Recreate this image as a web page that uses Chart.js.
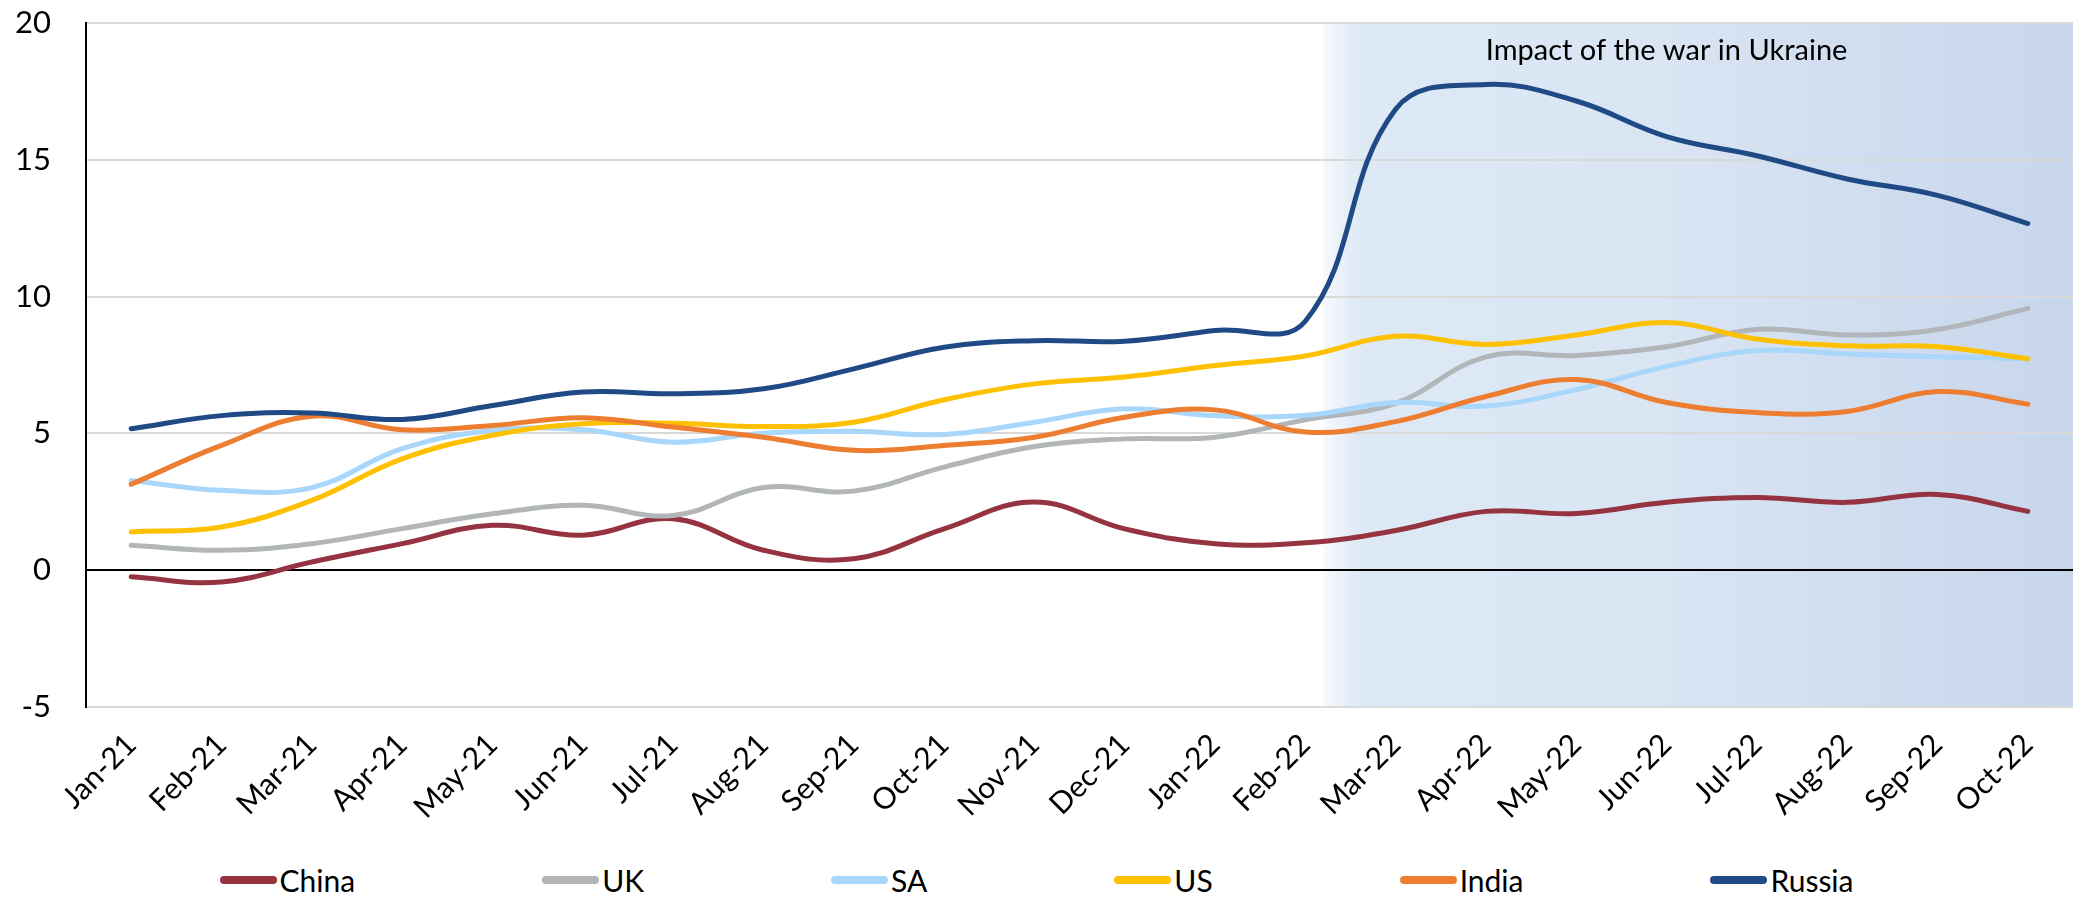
<!DOCTYPE html>
<html>
<head>
<meta charset="utf-8">
<script src="https://cdn.jsdelivr.net/npm/chart.js@4.4.0/dist/chart.umd.min.js"></script>
<style>
  body { margin: 0; background: #fff; font-family: Lato, sans-serif; }
  #wrap { position: relative; width: 2073px; height: 835px; }
  #legend { display: flex; justify-content: center; align-items: center; width: 2073px; height: 62px; padding-top: 28px; box-sizing: border-box; }
  .item { display: flex; align-items: center; margin-right: 187px; font-size: 30px; color: #000; }
  .item:last-child { margin-right: 0; }
  .mark { width: 57px; height: 8px; border-radius: 4px; margin-right: 3px; }
</style>
</head>
<body>
<div id="wrap"><canvas id="chart"></canvas></div>
<div id="legend"></div>
<script>
const months = ['Jan-21', 'Feb-21', 'Mar-21', 'Apr-21', 'May-21', 'Jun-21', 'Jul-21', 'Aug-21', 'Sep-21', 'Oct-21', 'Nov-21', 'Dec-21',
  'Jan-22', 'Feb-22', 'Mar-22', 'Apr-22', 'May-22', 'Jun-22', 'Jul-22', 'Aug-22', 'Sep-22', 'Oct-22'];

const china = [-0.24, -0.43, 0.30, 0.97, 1.64, 1.28, 1.88, 0.73, 0.42, 1.51, 2.49, 1.51, 0.97, 1.0, 1.45, 2.15, 2.07, 2.48, 2.66, 2.48, 2.77, 2.15];
const uk = [0.91, 0.73, 0.97, 1.52, 2.06, 2.37, 2.0, 3.02, 2.89, 3.77, 4.52, 4.8, 4.86, 5.5, 6.1, 7.8, 7.85, 8.17, 8.8, 8.6, 8.8, 9.57];
const sa = [3.28, 2.92, 3.02, 4.44, 5.11, 5.13, 4.68, 5.01, 5.08, 4.96, 5.41, 5.9, 5.65, 5.66, 6.13, 6.0, 6.6, 7.45, 8.03, 7.9, 7.8, 7.73];
const us = [1.40, 1.58, 2.55, 4.07, 4.93, 5.35, 5.37, 5.25, 5.41, 6.23, 6.81, 7.06, 7.48, 7.83, 8.55, 8.25, 8.6, 9.05, 8.45, 8.2, 8.17, 7.73];
const india = [3.14, 4.56, 5.63, 5.13, 5.29, 5.57, 5.23, 4.86, 4.38, 4.56, 4.86, 5.59, 5.86, 5.05, 5.43, 6.35, 6.97, 6.13, 5.76, 5.8, 6.53, 6.07];
const russia = [5.17, 5.65, 5.75, 5.51, 6.02, 6.51, 6.45, 6.63, 7.36, 8.15, 8.39, 8.37, 8.76, 9.1, 16.85, 17.75, 17.15, 15.85, 15.15, 14.3, 13.7, 12.67];

const seriesNames = ['China', 'UK', 'SA', 'US', 'India', 'Russia'];
const seriesData = [china, uk, sa, us, india, russia];
const seriesColors = ['#953340', '#b2b6b8', '#a9d6fb', '#ffc000', '#ed7d31', '#1f4a85'];

const yTicks = [-5, 0, 5, 10, 15, 20];
const warLabel = 'Impact of the war in Ukraine';
const warStart = 13.2;   // just after Feb-22
const warLabelAt = 17;   // Jun-22
const warLabelValue = 19;

// shaded "war" region + its label
const warPlugin = {
  id: 'war',
  beforeDraw(chart) {
    const { ctx, chartArea, scales: { x } } = chart;
    const x0 = x.getPixelForValue(warStart);
    const g = ctx.createLinearGradient(x0, 0, chartArea.right, 0);
    g.addColorStop(0, 'rgba(222,233,246,0.25)');
    g.addColorStop(0.02, 'rgba(222,233,246,0.6)');
    g.addColorStop(0.05, '#dde9f5');
    g.addColorStop(0.45, '#d9e5f3');
    g.addColorStop(1, '#c8d6ec');
    ctx.save();
    ctx.fillStyle = g;
    ctx.fillRect(x0, chartArea.top, chartArea.right - x0, chartArea.bottom - chartArea.top);
    ctx.restore();
  },
  afterDraw(chart) {
    const { ctx, scales: { x, y } } = chart;
    ctx.save();
    ctx.font = '29px Lato';
    ctx.fillStyle = '#000';
    ctx.textAlign = 'center';
    ctx.textBaseline = 'middle';
    ctx.fillText(warLabel, x.getPixelForValue(warLabelAt), y.getPixelForValue(warLabelValue));
    ctx.restore();
  }
};

const ctx = document.getElementById('chart').getContext('2d');
new Chart(ctx, {
  type: 'line',
  data: {
    labels: months,
    datasets: seriesNames.map((name, i) => ({
      label: name,
      data: seriesData[i],
      borderColor: seriesColors[i],
      backgroundColor: seriesColors[i],
      borderWidth: 5,
      borderCapStyle: 'round',
      borderJoinStyle: 'round',
      pointRadius: 0,
      tension: 0.4,
      order: seriesNames.length - i
    }))
  },
  options: {
    responsive: true,
    maintainAspectRatio: false,
    animation: false,
    layout: { padding: { top: 23, right: 0, bottom: 0, left: 0 } },
    plugins: {
      legend: { display: false },
      tooltip: { enabled: false }
    },
    scales: {
      x: {
        offset: true,
        grid: { display: false },
        border: { display: false },
        ticks: {
          autoSkip: false,
          maxRotation: 45,
          minRotation: 45,
          padding: 12,
          color: '#000',
          font: { family: 'Lato', size: 30 }
        },
        afterFit(scale) { scale.height = 128; }
      },
      y: {
        min: -5,
        max: 20,
        afterBuildTicks(scale) { scale.ticks = yTicks.map(v => ({ value: v })); },
        grid: {
          drawTicks: false,
          lineWidth: 2,
          color: c => (c.tick && c.tick.value === 0 ? '#000' : '#d9d9d9')
        },
        border: { color: '#000', width: 2 },
        ticks: {
          padding: 35,
          color: '#000',
          font: { family: 'Lato', size: 31 }
        },
        afterFit(scale) {
          scale.width = 86;
          // tick padding shouldn't push the plot area down
          scale.paddingTop = 0;
          scale.paddingBottom = 0;
        }
      }
    }
  },
  plugins: [warPlugin]
});

// legend as html
const legend = document.getElementById('legend');
seriesNames.forEach((name, i) => {
  const item = document.createElement('div');
  item.className = 'item';
  const mark = document.createElement('span');
  mark.className = 'mark';
  mark.style.background = seriesColors[i];
  const txt = document.createElement('span');
  txt.textContent = name;
  item.appendChild(mark);
  item.appendChild(txt);
  legend.appendChild(item);
});
</script>
</body>
</html>
